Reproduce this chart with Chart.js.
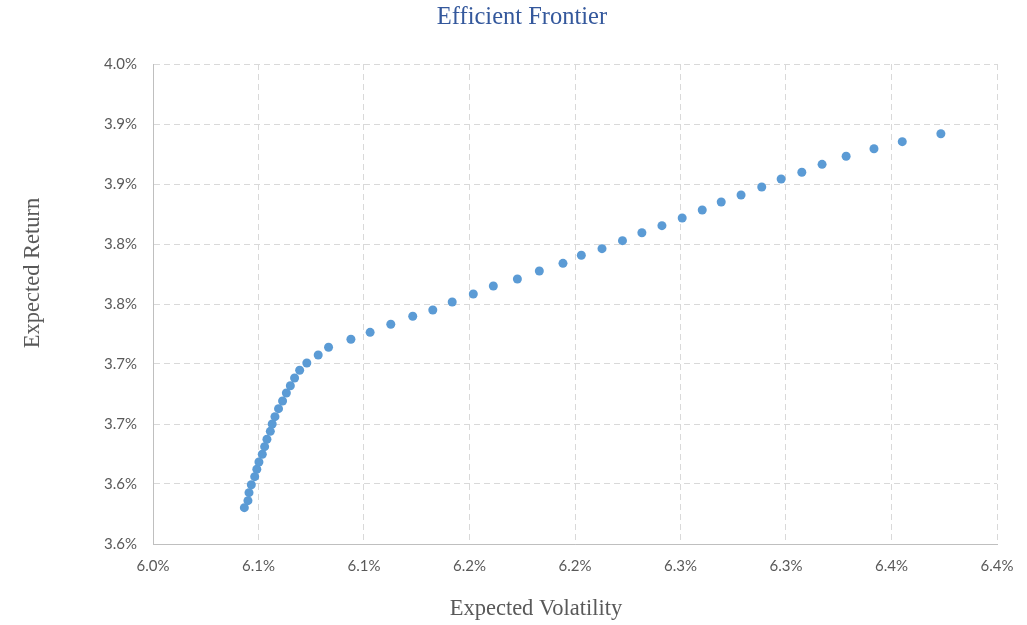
<!DOCTYPE html>
<html>
<head>
<meta charset="utf-8">
<title>Efficient Frontier</title>
<script src="https://cdn.jsdelivr.net/npm/chart.js@4.4.1/dist/chart.umd.min.js"></script>
<style>
  html, body { margin: 0; padding: 0; background: #fff; }
  #wrap { width: 1027px; height: 625px; }
</style>
</head>
<body>
<div id="wrap"><canvas id="frontier" width="1027" height="625"></canvas></div>
<script>
"use strict";

// expected volatility (%) of each portfolio on the frontier
var volatility = [
  6.0433, 6.0450, 6.0455, 6.0466, 6.0482, 6.0492, 6.0502, 6.0518, 6.0529, 6.0540,
  6.0556, 6.0565, 6.0578, 6.0595, 6.0614, 6.0632, 6.0651, 6.0671, 6.0695, 6.0729,
  6.0783, 6.0832, 6.0938, 6.1029, 6.1127, 6.1231, 6.1326, 6.1418, 6.1518, 6.1613,
  6.1727, 6.1831, 6.1943, 6.2030, 6.2128, 6.2225, 6.2317, 6.2412, 6.2508, 6.2603,
  6.2693, 6.2787, 6.2885, 6.2977, 6.3075, 6.3171, 6.3285, 6.3417, 6.3551, 6.3734
];

// expected return (%) for the same portfolios
var expectedReturn = [
  3.5803, 3.5861, 3.5928, 3.5994, 3.6061, 3.6123, 3.6183, 3.6248, 3.6311, 3.6373,
  3.6439, 3.6500, 3.6561, 3.6628, 3.6692, 3.6758, 3.6819, 3.6883, 3.6948, 3.7008,
  3.7075, 3.7140, 3.7206, 3.7264, 3.7331, 3.7398, 3.7450, 3.7517, 3.7583, 3.7650,
  3.7708, 3.7775, 3.7839, 3.7906, 3.7961, 3.8028, 3.8094, 3.8153, 3.8217, 3.8283,
  3.8350, 3.8408, 3.8475, 3.8542, 3.8598, 3.8664, 3.8731, 3.8794, 3.8853, 3.8919
];

var xTicks = [6.00, 6.05, 6.10, 6.15, 6.20, 6.25, 6.30, 6.35, 6.40];
var yTicks = [3.55, 3.60, 3.65, 3.70, 3.75, 3.80, 3.85, 3.90, 3.95];

var points = volatility.map(function(v, i) {
  return { x: v, y: expectedReturn[i] };
});

// excel shows one decimal, rounding halves up
function pct(value) {
  return (Math.round(value * 10 + 1e-6) / 10).toFixed(1) + "%";
}

function setTicks(list) {
  return function(scale) {
    scale.ticks = list.map(function(v) { return { value: v }; });
  };
}

var gray = "#595959";
var gridColor = "#d9d9d9";
var axisColor = "#bfbfbf";
var tickFont = { family: "Lato, 'Liberation Sans', sans-serif", size: 15 };
var serif = "'Liberation Serif', 'DejaVu Serif', serif";

// axis titles sit off-centre in the excel original, so place them by hand
var axisTitles = {
  id: "axisTitles",
  afterDraw: function(chart) {
    var c = chart.ctx;
    c.save();
    c.fillStyle = gray;
    c.font = "22.5px " + serif;
    c.textAlign = "center";
    c.textBaseline = "middle";
    c.fillText("Expected Volatility", 536, 609);
    c.translate(33, 273);
    c.rotate(-Math.PI / 2);
    c.fillText("Expected Return", 0, 0);
    c.restore();
  }
};

var ctx = document.getElementById("frontier");

var chart = new Chart(ctx, {
  type: "scatter",
  data: {
    datasets: [{
      label: "Efficient Frontier",
      data: points,
      backgroundColor: "#5b9bd5",
      borderWidth: 0,
      pointRadius: 4.5,
      pointHoverRadius: 4.5
    }]
  },
  plugins: [axisTitles],
  options: {
    responsive: false,
    animation: false,
    layout: { padding: { left: 47, right: 30, top: 0, bottom: 0 } },
    plugins: {
      legend: { display: false },
      tooltip: { enabled: false },
      title: {
        display: true,
        text: "Efficient Frontier",
        color: "#34589c",
        font: { family: serif, size: 24.5, weight: "normal" },
        padding: { top: 3, bottom: 31.6 }
      }
    },
    scales: {
      x: {
        type: "linear",
        min: 6.0,
        max: 6.4,
        afterBuildTicks: setTicks(xTicks),
        afterFit: function(scale) { scale.height = 81; },
        grid: { color: gridColor, lineWidth: 1, drawTicks: false },
        border: { display: true, color: axisColor, width: 1, dash: [6, 4] },
        ticks: {
          color: gray,
          font: tickFont,
          padding: 13,
          maxRotation: 0,
          callback: function(value) { return pct(value); }
        }
      },
      y: {
        type: "linear",
        min: 3.55,
        max: 3.95,
        afterBuildTicks: setTicks(yTicks),
        afterFit: function(scale) { scale.width = 106; },
        grid: { color: gridColor, lineWidth: 1, drawTicks: false },
        border: { display: true, color: axisColor, width: 1, dash: [6, 4] },
        ticks: {
          color: gray,
          font: tickFont,
          padding: 16,
          callback: function(value) { return pct(value); }
        }
      }
    }
  }
});
</script>
</body>
</html>
